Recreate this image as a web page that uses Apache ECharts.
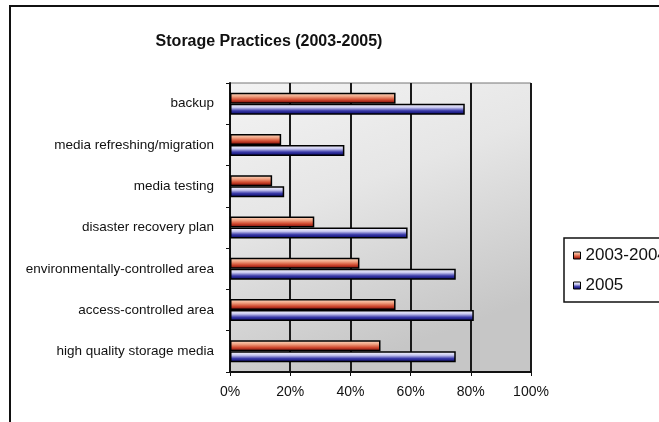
<!DOCTYPE html>
<html>
<head>
<meta charset="utf-8">
<script src="https://cdn.jsdelivr.net/npm/echarts@6/dist/echarts.min.js"></script>
<style>html,body{margin:0;padding:0;background:#fff;}#c{width:659px;height:422px;}</style>
</head>
<body>
<div id="c"></div>
<script>
const categories = ['backup', 'media refreshing/migration', 'media testing', 'disaster recovery plan', 'environmentally-controlled area', 'access-controlled area', 'high quality storage media'];
const series2003_2004 = [55, 17, 14, 28, 43, 55, 50];
const series2005 = [78, 38, 18, 59, 75, 81, 75];
const xTicks = [0, 20, 40, 60, 80, 100];
const seriesNames = ['2003-2004', '2005'];

const chart = echarts.init(document.getElementById('c'), null, {renderer: 'canvas'});
const FONT = 'Liberation Sans, Arial, sans-serif';
const orangeGrad = new echarts.graphic.LinearGradient(0, 0, 0, 1, [
  {offset: 0, color: '#fde3cc'},
  {offset: 0.35, color: '#f0a080'},
  {offset: 0.65, color: '#d04a30'},
  {offset: 1, color: '#6e0000'}
]);
const blueGrad = new echarts.graphic.LinearGradient(0, 0, 0, 1, [
  {offset: 0, color: '#ffffff'},
  {offset: 0.35, color: '#c8c8f0'},
  {offset: 0.65, color: '#3a3aa8'},
  {offset: 1, color: '#000060'}
]);

chart.setOption({
  animation: false,
  backgroundColor: '#ffffff',
  title: {
    text: 'Storage Practices (2003-2005)',
    left: 264, top: 29, textAlign: 'center',
    textStyle: {fontFamily: FONT, fontSize: 16, fontWeight: 'bold', color: '#111'}
  },
  graphic: [{
    type: 'rect', z: 100,
    shape: {x: 10, y: 6, width: 800, height: 600},
    style: {fill: null, stroke: '#111', lineWidth: 2}
  }],
  legend: {
    orient: 'vertical', left: 564, top: 238,
    padding: [9, 40, 8, 9], itemGap: 13,
    borderColor: '#111', borderWidth: 1.5,
    itemWidth: 7, itemHeight: 7, icon: 'rect',
    itemStyle: {borderColor: '#000', borderWidth: 1},
    textStyle: {fontFamily: FONT, fontSize: 17, color: '#111'},
    data: seriesNames
  },
  grid: {
    left: 230, right: 128, top: 83, bottom: 50,
    show: true, borderColor: '#777', borderWidth: 1,
    backgroundColor: new echarts.graphic.LinearGradient(0, 0, 0.35, 1, [
      {offset: 0, color: '#f3f3f3'},
      {offset: 0.45, color: '#e6e6e6'},
      {offset: 1, color: '#c6c6c6'}
    ])
  },
  xAxis: {
    type: 'value', min: 0, max: 100, interval: 20,
    axisLine: {show: true, lineStyle: {color: '#111', width: 2}},
    axisTick: {show: true, length: 4, lineStyle: {color: '#111'}},
    splitLine: {show: true, lineStyle: {color: '#1a1a1a', width: 2}},
    axisLabel: {
      margin: 13, fontFamily: FONT, fontSize: 14, color: '#111',
      formatter: v => xTicks.includes(v) ? v + '%' : ''
    }
  },
  yAxis: {
    type: 'category', data: categories, inverse: true,
    axisLine: {show: true, lineStyle: {color: '#111', width: 2}},
    axisTick: {show: true, length: 4, lineStyle: {color: '#111'}},
    axisLabel: {margin: 16, fontFamily: FONT, fontSize: 13.5, color: '#111'}
  },
  series: [
    {
      name: seriesNames[0], type: 'bar', data: series2003_2004,
      barWidth: 11, barGap: '0%',
      itemStyle: {color: orangeGrad, borderColor: '#000', borderWidth: 1.5}
    },
    {
      name: seriesNames[1], type: 'bar', data: series2005,
      barWidth: 11, barGap: '0%',
      itemStyle: {color: blueGrad, borderColor: '#000', borderWidth: 1.5}
    }
  ]
});
</script>
</body>
</html>
